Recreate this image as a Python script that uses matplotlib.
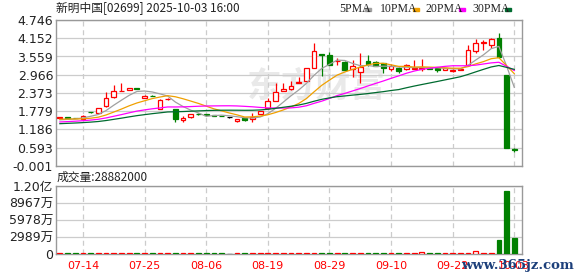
"""Daily K-line of 新明中国 (02699) with moving averages and volume."""

import matplotlib.pyplot as plt
import numpy as np
import pandas as pd
from matplotlib.patches import Rectangle

plt.rcParams['font.family'] = ['DejaVu Sans', 'Noto Sans CJK SC']

RED = '#ff0000'
GREEN = '#008000'

# closes before the visible window (only feed the moving averages)
prior_close = [1.22, 1.24, 1.25, 1.26, 1.27, 1.26, 1.27, 1.28, 1.29, 1.31,
               1.30, 1.31, 1.32, 1.33, 1.33, 1.34, 1.35, 1.36, 1.37, 1.39,
               1.50, 1.55, 1.57, 1.55, 1.53, 1.49, 1.48, 1.47, 1.48]

open_ = [1.57, 1.58, 1.57, 1.52, 1.76, 1.71, 1.95, 2.23, 2.43, 2.47,
         2.53, 2.22, 2.29, 1.86, 2.17, 1.84, 1.49, 1.58, 1.70, 1.69,
         1.64, 1.63, 1.58, 1.47, 1.55, 1.52, 1.69, 1.87, 2.12, 2.45,
         2.49, 2.70, 2.77, 3.20, 3.64, 3.61, 3.40, 3.38, 3.14, 3.07,
         3.42, 3.39, 3.34, 3.14, 3.20, 3.14, 3.16, 3.15, 3.20, 3.19,
         3.12, 3.09, 3.12, 3.27, 3.75, 3.99, 3.93, 4.17, 2.96, 0.54]
close = [1.58, 1.56, 1.56, 1.635, 1.74, 1.875, 2.20, 2.43, 2.45, 2.53,
         2.50, 2.28, 2.27, 2.14, 2.18, 1.52, 1.55, 1.68, 1.68, 1.65,
         1.63, 1.62, 1.58, 1.53, 1.48, 1.58, 1.79, 2.11, 2.40, 2.49,
         2.61, 2.73, 3.18, 3.73, 3.60, 3.28, 3.42, 3.12, 3.25, 3.23,
         3.31, 3.26, 3.17, 3.25, 3.09, 3.29, 3.19, 3.20, 3.16, 3.13,
         3.18, 3.13, 3.16, 3.77, 3.99, 4.02, 4.13, 3.53, 0.58, 0.52]
high = [1.60, 1.59, 1.57, 1.65, 1.77, 1.89, 2.42, 2.63, 2.71, 2.55,
        2.54, 2.30, 2.30, 2.17, 2.21, 1.85, 1.63, 1.70, 1.71, 1.70,
        1.65, 1.64, 1.59, 1.54, 1.56, 1.71, 1.80, 2.22, 2.69, 2.71,
        2.76, 2.90, 3.19, 4.01, 3.65, 3.70, 3.50, 3.41, 3.45, 3.66,
        3.62, 3.40, 3.35, 3.30, 3.21, 3.30, 3.45, 3.48, 3.21, 3.20,
        3.19, 3.15, 3.17, 3.92, 4.12, 4.10, 4.15, 4.33, 2.96, 0.58]
low = [1.55, 1.55, 1.55, 1.51, 1.73, 1.70, 1.93, 2.21, 2.43, 2.46,
       2.49, 2.20, 2.26, 1.85, 2.16, 1.44, 1.44, 1.57, 1.67, 1.64,
       1.62, 1.61, 1.57, 1.42, 1.47, 1.42, 1.68, 1.86, 2.11, 2.44,
       2.48, 2.69, 2.76, 3.19, 2.93, 3.27, 3.28, 3.11, 2.90, 2.71,
       3.25, 3.25, 3.01, 3.10, 3.03, 3.13, 3.14, 3.10, 3.15, 3.07,
       3.11, 3.07, 3.11, 3.25, 3.68, 3.76, 3.83, 3.52, 0.57, 0.45]
# volume in 万 shares
volume = [170, 160, 150, 180, 170, 180, 190, 200, 190, 180,
          170, 160, 160, 170, 160, 190, 170, 160, 160, 150,
          150, 150, 140, 160, 150, 170, 180, 190, 200, 190,
          190, 200, 200, 210, 200, 190, 170, 180, 180, 190,
          170, 160, 170, 160, 150, 160, 170, 470, 160, 150,
          150, 150, 160, 200, 580, 230, 230, 2500, 11150, 2888.2]

ma_periods = [5, 10, 20, 30]
ma_names = ['5PMA', '10PMA', '20PMA', '30PMA']
ma_colors = ['#a0a0a0', '#f0a000', '#ff00ff', '#006b30']

date_ticks = [3, 11, 19, 27, 35, 43, 51, 59]
date_labels = ['07-14', '07-25', '08-06', '08-19', '08-29', '09-10', '09-22', '10-03']
price_labels = ['-0.001', '0.593', '1.186', '1.779', '2.373', '2.966', '3.559', '4.152', '4.746']
vol_labels = ['0', '2989万', '5978万', '8967万', '1.20亿']


def style_axes(ax):
    for spine in ax.spines.values():
        spine.set_color('#999999')
        spine.set_linewidth(1.0)
    ax.tick_params(length=0, labelsize=9, colors='#222222', pad=2)
    ax.grid(axis='y', color='#cccccc', lw=0.9)
    for t in date_ticks:
        ax.axvline(t, color='#cccccc', lw=0.9, ls=(0, (4, 3)), zorder=0.8)
    ax.set_axisbelow(True)
    ax.set_xlim(-0.5, 60.0)


def main():
    o = np.array(open_)
    c = np.array(close)
    h = np.array(high)
    lo = np.array(low)
    idx = np.arange(len(c))

    edge = np.where(c > o, RED, np.where(c < o, GREEN, '#000000'))
    face = np.where(c > o, 'white', edge)

    fig = plt.figure(figsize=(5.78, 2.76), dpi=100)
    ax = fig.add_axes([56 / 578, 1 - 166 / 276, 466 / 578, 146 / 276])
    axv = fig.add_axes([56 / 578, 1 - 254.3 / 276, 466 / 578, 68.3 / 276])

    # price panel
    style_axes(ax)
    ymin, ymax = -0.001, 4.746
    ax.set_ylim(ymin, ymax)
    ax.set_yticks(np.linspace(ymin, ymax, len(price_labels)))
    ax.set_yticklabels(price_labels)
    ax.set_xticks([])

    ax.text(0.56, 0.55, '东方财富', transform=ax.transAxes, fontsize=25,
            fontweight='bold', color='#e9e9e9', ha='center', va='center',
            family=['Noto Sans CJK SC'], zorder=0.5)

    ax.vlines(idx, lo, h, colors=edge, lw=0.9, zorder=2)
    ax.bar(idx, np.maximum(np.abs(c - o), 0.012), bottom=np.minimum(o, c),
           width=0.62, color=face, edgecolor=edge, lw=0.9, zorder=3)

    full = pd.Series(prior_close + close)
    for n, col in zip(ma_periods, ma_colors):
        ma = full.rolling(n).mean().to_numpy()[len(prior_close):]
        ax.plot(idx, ma, color=col, lw=0.9, zorder=4)

    # volume panel
    style_axes(axv)
    vmax = 11956
    axv.set_ylim(0, vmax)
    axv.set_yticks(np.linspace(0, vmax, len(vol_labels)))
    axv.set_yticklabels(vol_labels)
    axv.bar(idx, volume, width=0.62, color=face, edgecolor=edge, lw=0.9, zorder=3)
    axv.set_xticks(date_ticks)
    axv.set_xticklabels(date_labels, fontsize=8, color=RED)
    axv.tick_params(axis='x', pad=5)

    # texts above panels
    fig.text(56 / 578, 1 - 9 / 276, '新明中国[02699] 2025-10-03 16:00',
             fontsize=8.5, va='center', ha='left', color='#222222',
             family=['Noto Sans CJK SC', 'DejaVu Sans'])
    fig.text(57 / 578, 1 - 177 / 276, '成交量:28882000',
             fontsize=8.5, va='center', ha='left', color='#222222',
             family=['Noto Sans CJK SC', 'DejaVu Sans'])

    legend_x = [339, 380, 425, 472]
    swatch_x = [365, 413, 459, 505]
    for name, col, tx, sx in zip(ma_names, ma_colors, legend_x, swatch_x):
        fig.text(tx / 578, 1 - 9 / 276, name, fontsize=8.5, va='center',
                 ha='left', color='#222222', family='Liberation Serif')
        fig.patches.append(Rectangle((sx / 578, 1 - 11 / 276), 6 / 578, 3 / 276,
                                     transform=fig.transFigure, color=col))

    fig.text(574 / 578, 1 - 265 / 276, 'www.365jz.com', fontsize=9.5,
             fontweight='bold', va='center', ha='right', color='#1c3f7a',
             family='DejaVu Serif')

    fig.savefig('out.png', dpi=100)
    plt.close(fig)


if __name__ == '__main__':
    main()
